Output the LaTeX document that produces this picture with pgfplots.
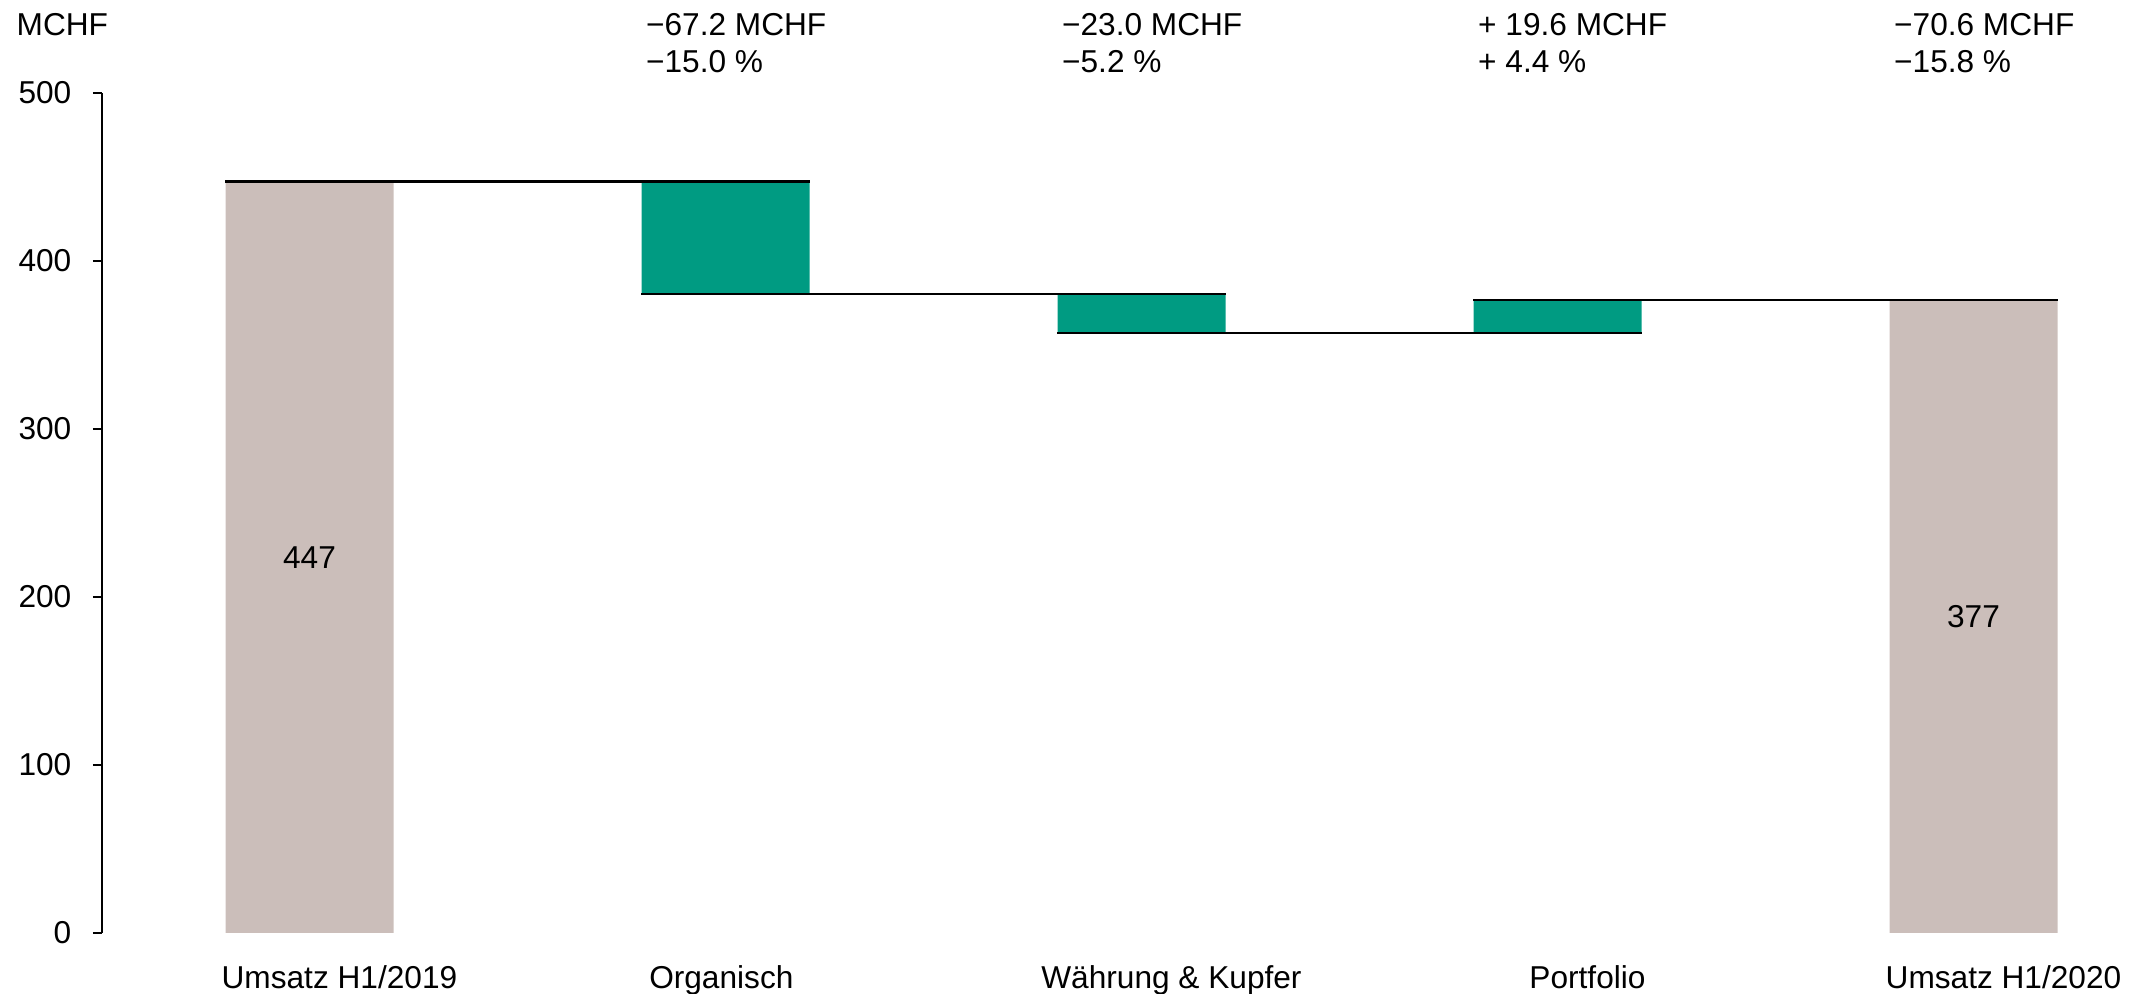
\documentclass[border=0pt]{standalone}
\usepackage{pgfplots}
\pgfplotsset{compat=1.18}
\usepackage{fontspec}
\setmainfont{Liberation Sans}
\definecolor{totgrey}{RGB}{203,190,186}
\definecolor{deltagreen}{RGB}{0,155,130}
\pgfplotsset{
  commonaxis/.style={
    scale only axis, width=20.39cm, height=8.40cm,
    xmin=-0.4988, xmax=4.4026, ymin=0, ymax=500,
    clip=false,
  }
}
\begin{document}
\begin{tikzpicture}[font=\fontsize{9}{10.8}\selectfont]
\begin{axis}[
  commonaxis,
  ybar stacked, bar width=1.68cm,
  axis x line=bottom, axis y line=left,
  axis line style={-, line width=0.02cm, black},
  x axis line style={draw=none},
  tick align=outside, major tick length=0.09cm,
  ytick={0,100,200,300,400,500},
  ytick style={line width=0.02cm, black},
  xtick={0.072,0.99,2.072,3.072,4.072},
  xticklabels={Umsatz H1/2019, Organisch, Währung \& Kupfer, Portfolio, Umsatz H1/2020},
  xtick style={draw=none},
  yticklabel style={anchor=east, inner sep=0pt},
  yticklabel shift=0.21cm,
  xticklabel style={anchor=base, inner sep=0pt},
  xticklabel shift=0.47cm,
  /pgf/number format/assume math mode=true,
]
\addplot[draw=none, fill=none] coordinates {(0,0) (1,380.2) (2,357.2) (3,357.2) (4,0)};
\addplot[draw=none, fill=totgrey] coordinates {(0,447.4) (1,0) (2,0) (3,0) (4,376.8)};
\addplot[draw=none, fill=deltagreen] coordinates {(0,0) (1,67.2) (2,23.0) (3,19.6) (4,0)};
\end{axis}
\begin{axis}[commonaxis, hide axis]
\addplot[black, line width=0.025cm, no marks] coordinates {(-0.202,447.4) (1.202,447.4)};
\addplot[black, line width=0.025cm, no marks] coordinates {(0.798,380.2) (2.202,380.2)};
\addplot[black, line width=0.025cm, no marks] coordinates {(1.798,357.2) (3.202,357.2)};
\addplot[black, line width=0.025cm, no marks] coordinates {(2.798,376.8) (4.202,376.8)};
\node[anchor=center] at (axis cs:0,223.7) {447};
\node[anchor=center] at (axis cs:4,188.4) {377};
\node[anchor=base west, inner sep=0pt, xshift=-0.86cm] at (axis cs:-0.4988,534.5) {MCHF};
\node[anchor=base west, inner sep=0pt, xshift=0.04cm] at (axis cs:0.798,534.5) {−67.2 MCHF};
\node[anchor=base west, inner sep=0pt, xshift=0.04cm] at (axis cs:0.798,511.9) {−15.0 \%};
\node[anchor=base west, inner sep=0pt, xshift=0.04cm] at (axis cs:1.798,534.5) {−23.0 MCHF};
\node[anchor=base west, inner sep=0pt, xshift=0.04cm] at (axis cs:1.798,511.9) {−5.2 \%};
\node[anchor=base west, inner sep=0pt, xshift=0.04cm] at (axis cs:2.798,534.5) {+ 19.6 MCHF};
\node[anchor=base west, inner sep=0pt, xshift=0.04cm] at (axis cs:2.798,511.9) {+ 4.4 \%};
\node[anchor=base west, inner sep=0pt, xshift=0.04cm] at (axis cs:3.798,534.5) {−70.6 MCHF};
\node[anchor=base west, inner sep=0pt, xshift=0.04cm] at (axis cs:3.798,511.9) {−15.8 \%};
\end{axis}
\pgfresetboundingbox
\path (-1.02cm,-0.61cm) rectangle (20.39cm,9.33cm);
\end{tikzpicture}
\end{document}
